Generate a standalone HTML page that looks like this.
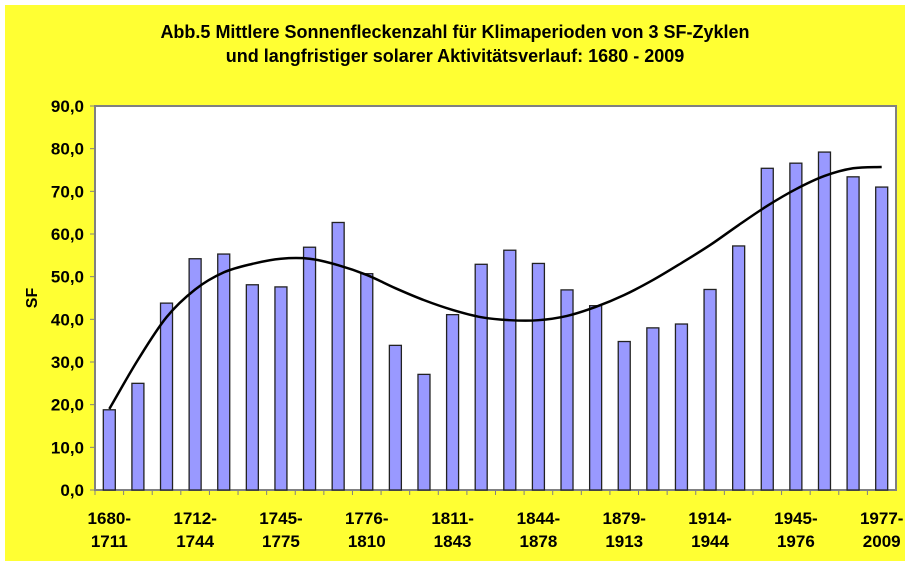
<!DOCTYPE html>
<html><head><meta charset="utf-8"><style>
body{margin:0;background:#fff;width:911px;height:567px;overflow:hidden}
svg{display:block;font-family:"Liberation Sans",Arial,sans-serif;font-weight:bold}
</style></head><body>
<svg id="c" width="911" height="567">
<rect x="5" y="5" width="900" height="556" fill="#FFFF33"/>
<text x="455" y="38" text-anchor="middle" font-size="18">Abb.5 Mittlere Sonnenfleckenzahl für Klimaperioden von 3 SF-Zyklen</text>
<text x="455" y="62" text-anchor="middle" font-size="18">und langfristiger solarer Aktivitätsverlauf: 1680 - 2009</text>
<rect x="95" y="106" width="801" height="384" fill="#fff" stroke="#808080" stroke-width="2"/>
<text transform="translate(37,298) rotate(-90)" text-anchor="middle" font-size="16">SF</text>
<g id="g"></g>
</svg>
<script>
const values=[18.8,25.0,43.8,54.2,55.3,48.1,47.6,56.9,62.7,50.7,33.9,27.1,41.1,52.9,56.2,53.1,46.9,43.2,34.8,38.0,38.9,47.0,57.2,75.4,76.6,79.2,73.4,71.0];
const trend=[19,30.5,40.5,47,51,53,54.2,54.2,52.7,50.4,47.3,44.5,42.2,40.5,39.8,39.8,40.8,42.9,45.7,49.2,53.2,57.4,62.1,66.6,70.5,73.6,75.4,75.7];
const yTicks=[0,10,20,30,40,50,60,70,80,90];
const labelIdx=[0,3,6,9,12,15,18,21,24,27];
const labelTop=["1680-","1712-","1745-","1776-","1811-","1844-","1879-","1914-","1945-","1977-"];
const labelBot=["1711","1744","1775","1810","1843","1878","1913","1944","1976","2009"];
const X0=95,W=801,Y0=490,H=384,YMAX=90;
const step=W/values.length;
const x=i=>X0+step*(i+0.5);
const y=v=>Y0-v/YMAX*H;
const g=document.getElementById('g');
const NS='http://www.w3.org/2000/svg';
function mk(t,a){const e=document.createElementNS(NS,t);for(const k in a)e.setAttribute(k,a[k]);g.appendChild(e);return e;}
yTicks.forEach(v=>{
 const l=mk('line',{x1:X0-5,x2:X0,y1:y(v),y2:y(v),stroke:'#808080'});
 
 
 const t=mk('text',{x:X0-11,y:y(v)+6,'text-anchor':'end','font-size':17});
 t.textContent=v.toFixed(1).replace('.',',');
 
 
});
values.forEach((v,i)=>{
 const r=mk('rect',{x:x(i)-6,y:y(v),width:12,height:Y0-y(v),fill:'#9999FF',stroke:'#222','stroke-width':1.3});
 
 
 const tk=mk('line',{x1:X0+step*i,x2:X0+step*i,y1:Y0,y2:Y0+5,stroke:'#808080'});
 
 
});
labelIdx.forEach((idx,j)=>{
 const t=mk('text',{x:x(idx),y:524,'text-anchor':'middle','font-size':17});
 t.textContent=labelTop[j];
 
 
 const b=mk('text',{x:x(idx),y:547,'text-anchor':'middle','font-size':17});
 b.textContent=labelBot[j];
 
 
});
let d='M'+x(0)+','+y(trend[0]);
for(let i=0;i<trend.length-1;i++){
 const p0=i===0?2*trend[0]-trend[1]:trend[i-1],p1=trend[i],p2=trend[i+1],p3=i+2<trend.length?trend[i+2]:trend[i+1];
 const xa=x(i),xb=x(i+1);
 d+=' C'+(xa+step/3)+','+y(p1+(p2-p0)/6)+' '+(xb-step/3)+','+y(p2-(p3-p1)/6)+' '+xb+','+y(p2);
}
const tl=mk('path',{d:d,fill:'none',stroke:'#000','stroke-width':2.5});


</script>
</body></html>
